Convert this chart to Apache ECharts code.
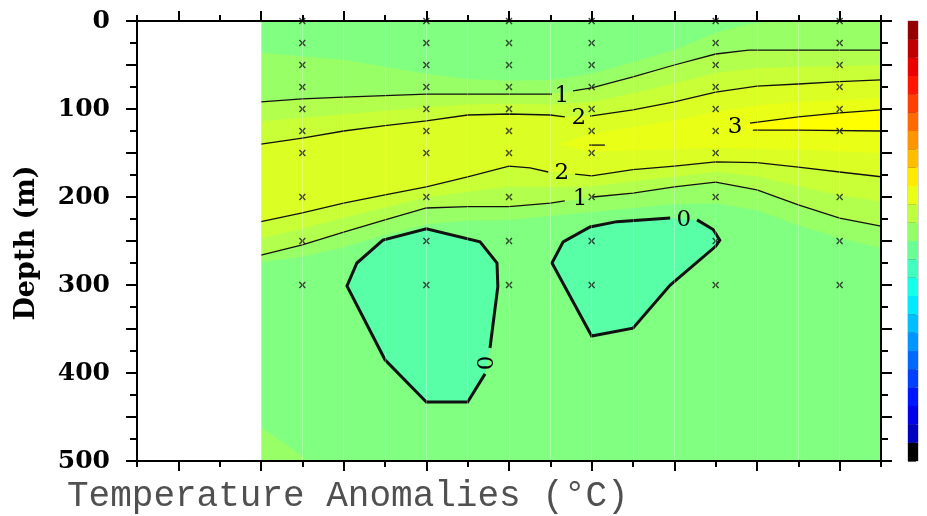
<!DOCTYPE html>
<html>
<head>
<meta charset="utf-8">
<title>Temperature Anomalies</title>
<script src="https://cdn.jsdelivr.net/npm/echarts@6/dist/echarts.min.js"></script>
<style>
  html, body { margin: 0; padding: 0; background: #fff; }
  #chart { width: 927px; height: 516px; }
</style>
</head>
<body>
<div id="chart"></div>
<script>
// x = position along the section (axis units 0..18), y = depth (m)
var stationX = [4, 7, 9, 11, 14, 17];
var sampleDepths = [0, 25, 50, 75, 100, 125, 150, 200, 250, 300];
var missingSamples = [[17, 150]];

var sectionLeft = 3, sectionRight = 18;
var depthMin = 0, depthMax = 500;

// labelled contours, null = gap left for the label
var line1Upper = [[3, 92], [4, 88.6], [5, 86.4], [7, 83], [9, 83], [10.04, 83], null,
  [10.55, 79.5], [11, 76], [12, 63.6], [13, 50], [14, 37.5], [14.8, 33], [18, 33]];
var line2Upper = [[3, 140], [4, 133], [5, 125], [6, 119], [7, 113.6], [8, 106.8], [9, 105.7],
  [10, 106.8], [10.35, 109], null, [10.96, 108], [12, 101], [13, 92], [14, 80.7], [15, 74],
  [16, 71.6], [17, 69], [18, 67]];
var line3Upper = [[14.83, 116], [16, 109], [17, 104.5], [18, 101]];
var line3Lower = [[14.9, 124], [16, 124], [18, 125]];
var line3Dash = [[10.94, 141], [11.32, 141]];
var line2Lower = [[3, 228], [4, 218], [5, 207], [6, 197.7], [7, 188.6], [8, 177], [9, 165],
  [9.51, 167], [9.95, 171.6], null, [10.6, 174], [11, 176], [12, 169], [13, 165], [14, 160],
  [15, 161], [16, 166], [17, 171.6], [18, 177]];
var line1Lower = [[3, 266], [4, 254.5], [5, 240], [6, 226], [7, 212.5], [8, 211], [9, 211],
  [10, 207], [10.35, 204.5], null, [11.03, 200], [12, 195.5], [13, 188.6], [14, 183], [15, 192],
  [16, 209], [17, 224], [18, 233]];
var zeroLeft = [[8.42, 401], [8, 433], [7, 433], [6, 385], [5.08, 301], [5.32, 275], [5.95, 249],
  [7, 236], [8.3, 251], [8.71, 275], [8.73, 302], [8.54, 371.6]];
var zeroRight = [[13.55, 226], [13.94, 237], [14.1, 249], [14.0, 256], [12.9, 300], [12, 349],
  [11, 358], [10.04, 275], [10.31, 251], [10.96, 234], [11.61, 228], [12.9, 224]];

// unlabelled shading steps (half-degree boundaries)
var b05Upper = [[3, 36], [4, 40], [5, 44], [6, 52], [7, 60], [8, 66], [9, 68], [10, 67], [11, 60],
  [12, 46.6], [13, 33], [14, 13.6], [14.7, 4.5], [15.3, 0]];
var b15Upper = [[3, 114], [4, 110], [5, 106], [6, 102], [7, 98], [8, 95], [9, 94], [10, 95],
  [11, 92], [12, 82], [13, 71], [14, 59], [15, 53.5], [16, 52], [17, 51], [18, 50]];
var b15Lower = [[3, 247], [4, 236], [5, 223.5], [6, 212], [7, 200.5], [8, 194], [9, 188], [10, 189],
  [11, 188], [12, 182], [13, 177], [14, 171.5], [15, 176.5], [16, 187.5], [17, 198], [18, 205]];
var b05Lower = [[3, 274], [4, 268], [5, 257], [6, 243], [7, 231], [8, 227], [9, 226], [10, 221.6],
  [11, 217], [12, 212.5], [13, 208], [14, 207], [15, 215], [16, 232], [17, 246.6], [18, 258]];
var b25 = [[10.2, 140], [11, 128], [12, 121], [13, 113], [14, 103], [15, 96], [16, 92], [18, 88],
  [18, 150], [16, 146], [14, 144], [12, 147], [11, 149]];
var cornerPatch = [[3, 462], [3.58, 480], [4.14, 500], [3, 500]];
var wedgeTip = [14.7, 120.5];

// label text, x, depth, rotation (deg)
var contourLabels = [['1', 10.28, 85, 0], ['2', 10.69, 110, 0], ['3', 14.47, 120.5, 0],
  ['2', 10.28, 173, 0], ['1', 10.72, 202, 0], ['0', 13.23, 226, 0], ['0', 8.47, 388.6, 90]];

var cbColors = ['#000000', '#0000bf', '#0000ea', '#0015ff', '#0040ff', '#006aff', '#0095ff',
  '#00bfff', '#00eaff', '#15ffea', '#40ffbf', '#6aff95', '#95ff6a', '#bfff40', '#eaff15',
  '#ffea00', '#ffbf00', '#ff9500', '#ff6a00', '#ff4000', '#ff1500', '#ea0000', '#bf0000', '#950000'];

function rev(a) { return a.slice().reverse(); }
function clean(a) { return a.filter(function (p) { return p !== null; }); }

var fills = [
  { points: [[sectionLeft, depthMin], [sectionRight, depthMin], [sectionRight, depthMax], [sectionLeft, depthMax]], color: '#80ff80' },
  { points: b05Upper.concat([[sectionRight, depthMin]], rev(b05Lower)), color: '#99ff66' },
  { points: cornerPatch, color: '#99ff66' },
  { points: clean(line1Upper).concat(rev(clean(line1Lower))), color: '#b3ff4d' },
  { points: b15Upper.concat(rev(b15Lower)), color: '#c8ff37' },
  { points: clean(line2Upper).concat(rev(clean(line2Lower))), color: '#dbff24' },
  { points: b25, color: '#e9ff16' },
  { points: [wedgeTip].concat(line3Upper, rev(line3Lower)), color: '#ffff00' },
  { points: zeroLeft, color: '#58ffa7' },
  { points: zeroRight, color: '#58ffa7' }
];

var contours = [
  { points: line1Upper, width: 1.3 },
  { points: line2Upper, width: 1.3 },
  { points: line3Upper, width: 1.3 },
  { points: line3Lower, width: 1.3 },
  { points: line3Dash, width: 1.3 },
  { points: line2Lower, width: 1.3 },
  { points: line1Lower, width: 1.3 },
  { points: zeroLeft, width: 3 },
  { points: zeroRight, width: 3 }
];

var markers = [];
stationX.forEach(function (x) {
  sampleDepths.forEach(function (d) {
    var skip = missingSamples.some(function (m) { return m[0] === x && m[1] === d; });
    if (!skip) markers.push([x, d]);
  });
});

var chart = echarts.init(document.getElementById('chart'));

var tickStyle = { color: '#000', width: 2 };

chart.setOption({
  animation: false,
  backgroundColor: '#fff',
  grid: [
    { left: 137, right: 46, top: 21, bottom: 55 },
    { left: 908, width: 10, top: 21, height: 440, show: true, borderColor: '#aaa', borderWidth: 1 }
  ],
  xAxis: [
    {
      gridIndex: 0, type: 'value', min: 0, max: 18, interval: 2, position: 'bottom', z: 6,
      axisLine: { onZero: false, lineStyle: tickStyle },
      axisTick: { show: true, inside: false, length: 6, lineStyle: tickStyle },
      minorTick: { show: true, splitNumber: 2, length: 10, lineStyle: tickStyle },
      axisLabel: { show: false },
      splitLine: { show: true, lineStyle: { color: 'rgba(255,255,255,0.3)', width: 1 } },
      minorSplitLine: { show: true, lineStyle: { color: 'rgba(255,255,255,0.3)', width: 1 } }
    },
    {
      gridIndex: 0, type: 'value', min: 0, max: 18, interval: 2, position: 'top', z: 6,
      axisLine: { onZero: false, lineStyle: tickStyle },
      axisTick: { show: true, inside: false, length: 6, lineStyle: tickStyle },
      minorTick: { show: true, splitNumber: 2, length: 10, lineStyle: tickStyle },
      axisLabel: { show: false },
      splitLine: { show: false }
    },
    { gridIndex: 1, type: 'value', min: 0, max: 1, show: false }
  ],
  yAxis: [
    {
      gridIndex: 0, type: 'value', inverse: true, min: depthMin, max: depthMax, interval: 50,
      position: 'left', z: 6,
      axisLine: { show: true, onZero: false, lineStyle: tickStyle },
      axisTick: { show: true, inside: false, length: 11, lineStyle: tickStyle },
      minorTick: { show: true, splitNumber: 2, length: 7, lineStyle: tickStyle },
      axisLabel: {
        margin: 27, color: '#000', fontFamily: 'DejaVu Serif', fontWeight: 'bold', fontSize: 25,
        formatter: function (v) { return v % 100 === 0 ? String(v) : ''; }
      },
      splitLine: { show: false }
    },
    {
      gridIndex: 0, type: 'value', inverse: true, min: depthMin, max: depthMax, interval: 50,
      position: 'right', z: 6,
      axisLine: { show: true, onZero: false, lineStyle: tickStyle },
      axisTick: { show: true, inside: false, length: 11, lineStyle: tickStyle },
      minorTick: { show: true, splitNumber: 2, length: 7, lineStyle: tickStyle },
      axisLabel: { show: false },
      splitLine: { show: false }
    },
    {
      gridIndex: 1, type: 'value', min: 0, max: cbColors.length, interval: 1, position: 'right',
      axisLine: { show: false },
      axisTick: { show: true, inside: false, length: 8, lineStyle: { color: '#555', width: 1 } },
      axisLabel: { show: false },
      splitLine: { show: false }
    }
  ],
  graphic: [
    {
      type: 'text', x: 27, y: 243, rotation: Math.PI / 2,
      style: { text: 'Depth (m)', font: 'bold 27px "DejaVu Serif"', fill: '#000', align: 'center', verticalAlign: 'middle' }
    },
    {
      type: 'text', x: 67, y: 496,
      style: { text: 'Temperature Anomalies (°C)', font: '36px "Liberation Mono"', fill: '#505050', align: 'left', verticalAlign: 'middle' }
    }
  ],
  series: [
    {
      type: 'custom', name: 'shading', xAxisIndex: 0, yAxisIndex: 0, z: 1, clip: true,
      data: fills.map(function () { return [0, 0]; }),
      renderItem: function (params, api) {
        var f = fills[params.dataIndex];
        return {
          type: 'polygon',
          shape: { points: f.points.map(function (p) { return api.coord(p); }) },
          style: { fill: f.color }
        };
      }
    },
    {
      type: 'custom', name: 'contours', xAxisIndex: 0, yAxisIndex: 0, z: 3, clip: true,
      data: contours.map(function () { return [0, 0]; }),
      renderItem: function (params, api) {
        var c = contours[params.dataIndex];
        var children = [];
        var seg = [];
        function flush() {
          if (seg.length > 1) {
            children.push({ type: 'polyline', shape: { points: seg },
              style: { stroke: '#111', lineWidth: c.width, fill: null } });
          }
          seg = [];
        }
        c.points.forEach(function (p) { if (p === null) flush(); else seg.push(api.coord(p)); });
        flush();
        return { type: 'group', children: children };
      }
    },
    {
      type: 'scatter', name: 'samples', xAxisIndex: 0, yAxisIndex: 0, z: 4,
      symbol: 'path://M0,1.5L1.5,0L5,3.5L8.5,0L10,1.5L6.5,5L10,8.5L8.5,10L5,6.5L1.5,10L0,8.5L3.5,5Z',
      symbolSize: 7,
      itemStyle: { color: '#1a1a1a' },
      data: markers
    },
    {
      type: 'custom', name: 'labels', xAxisIndex: 0, yAxisIndex: 0, z: 5,
      data: contourLabels.map(function () { return [0, 0]; }),
      renderItem: function (params, api) {
        var l = contourLabels[params.dataIndex];
        var p = api.coord([l[1], l[2]]);
        return {
          type: 'text', x: p[0], y: p[1], rotation: l[3] * Math.PI / 180,
          style: { text: l[0], font: '23px "DejaVu Serif"', fill: '#000', align: 'center', verticalAlign: 'middle' }
        };
      }
    },
    {
      type: 'custom', name: 'colorbar', xAxisIndex: 2, yAxisIndex: 2, z: 2,
      data: cbColors.map(function (c, i) { return [0, i]; }),
      renderItem: function (params, api) {
        var i = params.dataIndex;
        var p0 = api.coord([0, i]);
        var p1 = api.coord([1, i + 1]);
        return {
          type: 'rect',
          shape: { x: p0[0], y: p1[1], width: p1[0] - p0[0], height: p0[1] - p1[1] },
          style: { fill: cbColors[i] }
        };
      }
    }
  ]
});
</script>
</body>
</html>
